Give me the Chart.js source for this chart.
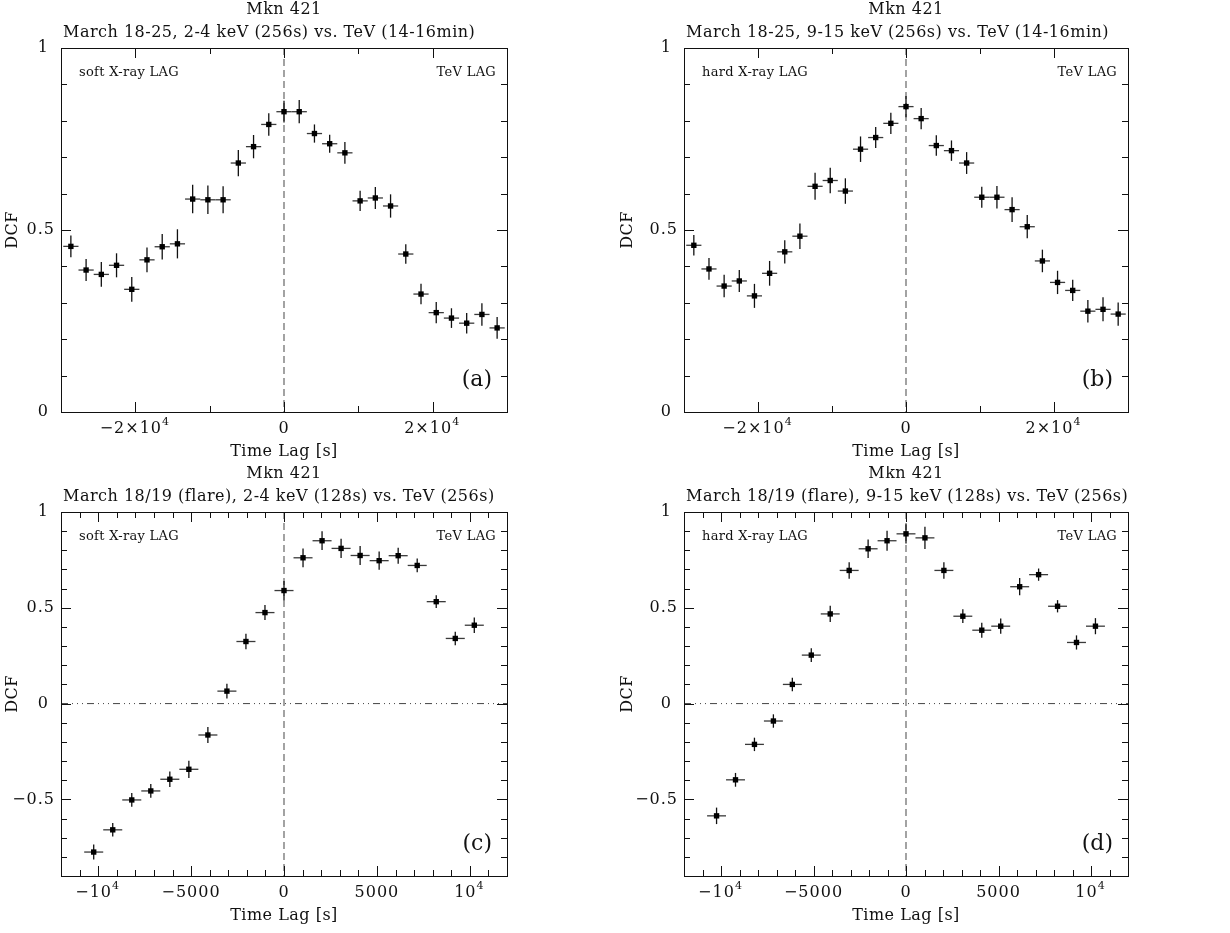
<!DOCTYPE html>
<html>
<head>
<meta charset="utf-8">
<title>Mkn 421 DCF</title>
<script src="https://cdn.jsdelivr.net/npm/chart.js@4.4.1/dist/chart.umd.min.js"></script>
<style>
  html, body { margin: 0; padding: 0; background: #fff; }
  #wrap { position: relative; width: 1230px; height: 933px; }
  #wrap canvas { position: absolute; }
</style>
</head>
<body>
<div id="wrap">
  <canvas id="panelA" width="615" height="466" style="left:0;top:0"></canvas>
  <canvas id="panelB" width="615" height="466" style="left:615px;top:0"></canvas>
  <canvas id="panelC" width="615" height="467" style="left:0;top:466px"></canvas>
  <canvas id="panelD" width="615" height="467" style="left:615px;top:466px"></canvas>
</div>
<script>
// time lags [s] of the DCF bins
const lagsAB = [-28672, -26624, -24576, -22528, -20480, -18432, -16384, -14336, -12288, -10240,
  -8192, -6144, -4096, -2048, 0, 2048, 4096, 6144, 8192, 10240, 12288, 14336, 16384, 18432,
  20480, 22528, 24576, 26624, 28672];
const lagsCD = [-10240, -9216, -8192, -7168, -6144, -5120, -4096, -3072, -2048, -1024, 0,
  1024, 2048, 3072, 4096, 5120, 6144, 7168, 8192, 9216, 10240];
const binHalfAB = 1024;
const binHalfCD = 512;

// (a) March 18-25, 2-4 keV vs TeV
const dcfA = [0.455, 0.390, 0.378, 0.403, 0.337, 0.418, 0.454, 0.462, 0.585, 0.583, 0.583, 0.684,
  0.729, 0.790, 0.825, 0.825, 0.765, 0.737, 0.712, 0.580, 0.588, 0.566, 0.434, 0.324, 0.273,
  0.258, 0.244, 0.268, 0.231];
const errA = [0.030, 0.030, 0.034, 0.033, 0.034, 0.034, 0.035, 0.040, 0.039, 0.039, 0.037, 0.036,
  0.032, 0.031, 0.030, 0.032, 0.025, 0.025, 0.030, 0.028, 0.030, 0.032, 0.027, 0.028, 0.029,
  0.027, 0.028, 0.031, 0.030];

// (b) March 18-25, 9-15 keV vs TeV
const dcfB = [0.458, 0.393, 0.346, 0.360, 0.319, 0.381, 0.440, 0.483, 0.620, 0.636, 0.607, 0.722,
  0.754, 0.793, 0.839, 0.806, 0.732, 0.718, 0.684, 0.590, 0.590, 0.556, 0.509, 0.415, 0.356,
  0.334, 0.277, 0.282, 0.269];
const errB = [0.028, 0.030, 0.031, 0.030, 0.033, 0.034, 0.032, 0.035, 0.037, 0.035, 0.035, 0.035,
  0.029, 0.029, 0.029, 0.029, 0.028, 0.028, 0.030, 0.029, 0.031, 0.034, 0.032, 0.031, 0.032,
  0.029, 0.031, 0.033, 0.032];

// (c) March 18/19 flare, 2-4 keV vs TeV
const dcfC = [-0.775, -0.659, -0.503, -0.456, -0.395, -0.343, -0.164, 0.065, 0.324, 0.475, 0.590,
  0.761, 0.850, 0.810, 0.773, 0.746, 0.772, 0.721, 0.532, 0.340, 0.409];
const errC = [0.039, 0.035, 0.036, 0.036, 0.041, 0.045, 0.042, 0.039, 0.041, 0.039, 0.050,
  0.049, 0.049, 0.050, 0.050, 0.048, 0.042, 0.036, 0.033, 0.035, 0.040];

// (d) March 18/19 flare, 9-15 keV vs TeV
const dcfD = [-0.586, -0.398, -0.213, -0.091, 0.100, 0.253, 0.468, 0.695, 0.808, 0.850, 0.886,
  0.865, 0.695, 0.456, 0.383, 0.404, 0.610, 0.673, 0.508, 0.319, 0.404];
const errD = [0.043, 0.036, 0.035, 0.035, 0.035, 0.036, 0.042, 0.043, 0.048, 0.052, 0.050,
  0.058, 0.043, 0.036, 0.039, 0.040, 0.045, 0.032, 0.032, 0.037, 0.042];

// tick positions and labels ('^' starts a superscript)
const xTicksAB = [-20000, 0, 20000];
const xLabelsAB = ['\u22122\u00d710^4', '0', '2\u00d710^4'];
const xTicksCD = [-10000, -5000, 0, 5000, 10000];
const xLabelsCD = ['\u221210^4', '\u22125000', '0', '5000', '10^4'];
const yTicksAB = [0, 0.5, 1];
const yLabelsAB = ['0', '0.5', '1'];
const yTicksCD = [-0.5, 0, 0.5, 1];
const yLabelsCD = ['\u22120.5', '0', '0.5', '1'];

const SERIF = '"DejaVu Serif", "Liberation Serif", serif';
const INK = '#111';

function drawLabel(ctx, text, x, y, align) {
  const [base, sup] = text.split('^');
  ctx.letterSpacing = '1px';
  ctx.font = '16px ' + SERIF;
  const wb = ctx.measureText(base).width;
  ctx.font = '11px ' + SERIF;
  const ws = sup ? ctx.measureText(sup).width + 1 : 0;
  let x0 = x;
  if (align === 'right') x0 = x - wb - ws;
  if (align === 'center') x0 = x - (wb + ws) / 2;
  ctx.textAlign = 'left';
  ctx.textBaseline = 'middle';
  ctx.font = '16px ' + SERIF;
  ctx.fillText(base, x0, y);
  if (sup) {
    ctx.font = '11px ' + SERIF;
    ctx.fillText(sup, x0 + wb, y - 7);
  }
  ctx.letterSpacing = '0px';
}

// frame, inward ticks, labels and titles
const decor = {
  id: 'decor',
  beforeDatasetsDraw(chart, args, o) {
    const { ctx, chartArea: a, scales: { x, y } } = chart;
    ctx.save();
    ctx.strokeStyle = '#666';
    ctx.lineWidth = 1.2;
    ctx.setLineDash([7, 4]);
    const x0 = x.getPixelForValue(0);
    ctx.beginPath(); ctx.moveTo(x0, a.top); ctx.lineTo(x0, a.bottom); ctx.stroke();
    if (o.zeroLine) {
      ctx.strokeStyle = '#444';
      ctx.lineWidth = 1;
      ctx.setLineDash([7, 4, 1, 4, 1, 4, 1, 4]);
      const y0 = y.getPixelForValue(0);
      ctx.beginPath(); ctx.moveTo(a.left, y0); ctx.lineTo(a.right, y0); ctx.stroke();
    }
    ctx.restore();
  },
  afterDraw(chart, args, o) {
    const { ctx, chartArea: a, scales: { x, y } } = chart;
    ctx.save();
    ctx.strokeStyle = INK;
    ctx.fillStyle = INK;
    ctx.lineWidth = 1;
    ctx.strokeRect(a.left + 0.5, a.top + 0.5, a.right - a.left, a.bottom - a.top);

    ctx.beginPath();
    for (let v = Math.round(x.min / o.xMinor); v <= Math.round(x.max / o.xMinor); v++) {
      const val = v * o.xMinor;
      const len = o.xTicks.includes(val) ? 10 : 6;
      const px = Math.round(x.getPixelForValue(val)) + 0.5;
      ctx.moveTo(px, a.bottom); ctx.lineTo(px, a.bottom - len);
      ctx.moveTo(px, a.top); ctx.lineTo(px, a.top + len);
    }
    for (let v = Math.round(y.min * 10); v <= Math.round(y.max * 10); v++) {
      const val = v / 10;
      const len = o.yTicks.includes(val) ? 10 : 6;
      const py = Math.round(y.getPixelForValue(val)) + 0.5;
      ctx.moveTo(a.left, py); ctx.lineTo(a.left + len, py);
      ctx.moveTo(a.right, py); ctx.lineTo(a.right - len, py);
    }
    ctx.stroke();

    o.xTicks.forEach((t, i) => drawLabel(ctx, o.xLabels[i], x.getPixelForValue(t), a.bottom + 17, 'center'));
    o.yTicks.forEach((t, i) => {
      const lab = o.yLabels[i];
      const gap = lab.includes('.') ? 6 : 12;
      drawLabel(ctx, lab, a.left - gap, y.getPixelForValue(t), 'right');
    });

    const cx = (a.left + a.right) / 2;
    ctx.textBaseline = 'middle';
    ctx.font = '16px ' + SERIF;
    ctx.letterSpacing = '0.5px';
    ctx.textAlign = 'center';
    ctx.fillText('Time Lag [s]', cx, a.bottom + 40);
    ctx.fillText('Mkn 421', cx, a.top - 38);
    ctx.textAlign = 'left';
    ctx.fillText(o.title, a.left + 2, a.top - 15);

    ctx.save();
    ctx.translate(13, (a.top + a.bottom) / 2);
    ctx.rotate(-Math.PI / 2);
    ctx.textAlign = 'center';
    ctx.fillText('DCF', 0, 0);
    ctx.restore();

    ctx.font = '13px ' + SERIF;
    ctx.letterSpacing = '0.3px';
    ctx.textAlign = 'left';
    ctx.fillText(o.leftNote, a.left + 18, a.top + 25);
    ctx.textAlign = 'right';
    ctx.fillText('TeV LAG', a.right - 11, a.top + 25);

    ctx.font = '22px ' + SERIF;
    ctx.letterSpacing = '0px';
    ctx.fillText(o.tag, a.right - 15, a.bottom - 32);
    ctx.restore();
  }
};

// horizontal (bin width) and vertical (DCF error) bars
const errorBars = {
  id: 'errorBars',
  beforeDatasetsDraw(chart) {
    const { ctx, scales: { x, y } } = chart;
    ctx.save();
    ctx.lineWidth = 1.3;
    chart.data.datasets.forEach(ds => {
      ds.data.forEach((p, i) => {
        const px = x.getPixelForValue(p.x);
        const py = y.getPixelForValue(p.y);
        ctx.strokeStyle = '#3a3a3a';
        ctx.beginPath();
        ctx.moveTo(x.getPixelForValue(p.x - ds.xErr), py);
        ctx.lineTo(x.getPixelForValue(p.x + ds.xErr), py);
        ctx.stroke();
        ctx.strokeStyle = '#111';
        ctx.beginPath();
        ctx.moveTo(px, y.getPixelForValue(p.y - ds.yErr[i]));
        ctx.lineTo(px, y.getPixelForValue(p.y + ds.yErr[i]));
        ctx.stroke();
      });
    });
    ctx.restore();
  }
};

function makePanel(id, lags, dcf, err, binHalf, opts) {
  const points = lags.map((t, i) => ({ x: t, y: dcf[i] }));
  return new Chart(document.getElementById(id), {
    type: 'scatter',
    data: {
      datasets: [{
        data: points,
        yErr: err,
        xErr: binHalf,
        pointStyle: 'rect',
        pointRadius: 3.8,
        backgroundColor: '#000',
        borderWidth: 0
      }]
    },
    options: {
      responsive: false,
      animation: false,
      devicePixelRatio: 1,
      layout: { padding: opts.padding },
      scales: {
        x: { type: 'linear', min: opts.xMin, max: opts.xMax, display: false },
        y: { type: 'linear', min: opts.yMin, max: 1, display: false }
      },
      plugins: {
        legend: { display: false },
        tooltip: { enabled: false },
        decor: opts.decor
      }
    },
    plugins: [decor, errorBars]
  });
}

const padLeft = { left: 61, right: 108 };
const padRight = { left: 69, right: 102 };

makePanel('panelA', lagsAB, dcfA, errA, binHalfAB, {
  padding: { ...padLeft, top: 48, bottom: 54 },
  xMin: -30000, xMax: 30000, yMin: 0,
  decor: {
    title: 'March 18-25, 2-4 keV (256s) vs. TeV (14-16min)',
    leftNote: 'soft X-ray LAG', tag: '(a)', zeroLine: false,
    xTicks: xTicksAB, xLabels: xLabelsAB, xMinor: 10000, yTicks: yTicksAB, yLabels: yLabelsAB
  }
});
makePanel('panelB', lagsAB, dcfB, errB, binHalfAB, {
  padding: { ...padRight, top: 48, bottom: 54 },
  xMin: -30000, xMax: 30000, yMin: 0,
  decor: {
    title: 'March 18-25, 9-15 keV (256s) vs. TeV (14-16min)',
    leftNote: 'hard X-ray LAG', tag: '(b)', zeroLine: false,
    xTicks: xTicksAB, xLabels: xLabelsAB, xMinor: 10000, yTicks: yTicksAB, yLabels: yLabelsAB
  }
});
makePanel('panelC', lagsCD, dcfC, errC, binHalfCD, {
  padding: { ...padLeft, top: 46, bottom: 57 },
  xMin: -12000, xMax: 12000, yMin: -0.9,
  decor: {
    title: 'March 18/19 (flare), 2-4 keV (128s) vs. TeV (256s)',
    leftNote: 'soft X-ray LAG', tag: '(c)', zeroLine: true,
    xTicks: xTicksCD, xLabels: xLabelsCD, xMinor: 1000, yTicks: yTicksCD, yLabels: yLabelsCD
  }
});
makePanel('panelD', lagsCD, dcfD, errD, binHalfCD, {
  padding: { ...padRight, top: 46, bottom: 57 },
  xMin: -12000, xMax: 12000, yMin: -0.9,
  decor: {
    title: 'March 18/19 (flare), 9-15 keV (128s) vs. TeV (256s)',
    leftNote: 'hard X-ray LAG', tag: '(d)', zeroLine: true,
    xTicks: xTicksCD, xLabels: xLabelsCD, xMinor: 1000, yTicks: yTicksCD, yLabels: yLabelsCD
  }
});
</script>
</body>
</html>
